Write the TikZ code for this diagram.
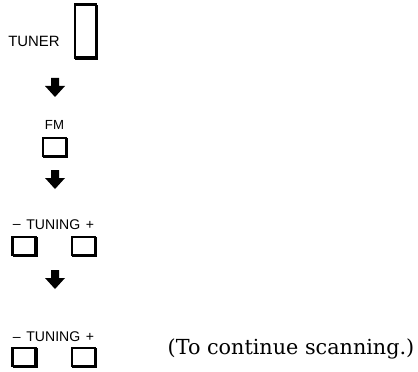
\documentclass[tikz,border=0pt]{standalone}
\usepackage{fontspec}
\newfontfamily\panelfont{Liberation Sans}
\newfontfamily\notefont{DejaVu Serif}
\tikzset{
  btn/.style={draw, line width=1.15pt, fill=white, inner sep=0pt,
    preaction={draw, line width=1.4pt, transform canvas={shift={(0.7pt,-0.7pt)}}}},
  smallbtn/.style={btn, minimum width=0.46cm, minimum height=0.35cm},
  panel/.style={font=\panelfont\fontsize{8}{9}\selectfont, inner sep=0pt},
  note/.style={font=\notefont\fontsize{11.8}{13}\selectfont, inner sep=0pt},
  downarrow/.pic={
    \fill (-4,0) -- (4,0) -- (4,8) -- (10,8) -- (0,19) -- (-10,8) -- (-4,8) -- cycle;
  }
}
\begin{document}
\begin{tikzpicture}[x=0.02cm,y=-0.02cm]
	\useasboundingbox (0,0) rectangle (418,371);
	% tuner button
	\node[panel, font=\panelfont\fontsize{8.5}{10}\selectfont] (tunerlbl) at (34,41) {TUNER};
	\node[btn, minimum width=0.42cm, minimum height=1.06cm] (tuner) at (85.5,31) {};
	\pic at (55,78) {downarrow};
	% band button
	\node[panel, font=\panelfont\fontsize{7.5}{9}\selectfont] (fmlbl) at (54.5,125) {FM};
	\node[smallbtn] (fm) at (54.5,147) {};
	\pic at (55,170) {downarrow};
	% tuning buttons
	\node[panel] (tuninglbl) at (53.5,225) {\raisebox{0.06em}{–}\hspace{0.4em}TUNING\hspace{0.4em}+};
	\node[smallbtn] (minus) at (24,246) {};
	\node[smallbtn] (plus) at (83.5,246) {};
	\pic at (55,270) {downarrow};
	% tuning buttons again
	\node[panel] (tuninglblb) at (53.5,337) {\raisebox{0.06em}{–}\hspace{0.4em}TUNING\hspace{0.4em}+};
	\node[smallbtn] (minusb) at (24,357) {};
	\node[smallbtn] (plusb) at (83.5,357) {};
	\node[note] (cont) at (291,349) {(To continue scanning.)};
\end{tikzpicture}
\end{document}
